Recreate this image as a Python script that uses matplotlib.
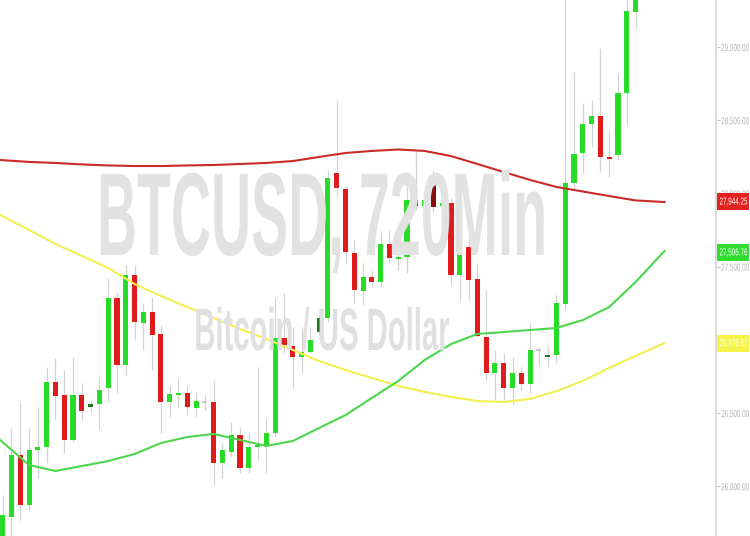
import matplotlib
matplotlib.use('Agg')
import matplotlib.pyplot as plt
import matplotlib.transforms as mtransforms
from matplotlib.patches import Rectangle
from matplotlib.patheffects import AbstractPathEffect

# candle data, 720 min bars (open, high, low, close)
opens = [25578, 25790, 26213, 25872, 26247, 26268, 26712, 26623, 26316, 26623,
         26541, 26562, 26671, 27286, 26828, 27443, 27115, 27190, 27040, 26575,
         26630, 26637, 26534, 26575, 26575, 26159, 26234, 26350, 26125, 26268,
         26282, 26364, 27012, 26958, 26883, 26917, 27053, 27149, 28139, 28030,
         27593, 27333, 27429, 27395, 27654, 27552, 27566, 27955, 27914, 28078,
         27914, 27935, 27443, 27634, 27415, 27019, 26773, 26842, 26671, 26773,
         26698, 26931, 26883, 26896, 27245, 28071, 28276, 28474, 28529, 28249,
         28262, 28686, 29239]
highs = [25940, 26398, 26569, 26398, 26541, 26814, 26876, 26794, 26883, 26705,
         26589, 26746, 27422, 27320, 27511, 27511, 27252, 27293, 27101, 26691,
         26739, 26691, 26644, 26623, 26726, 26295, 26439, 26405, 26364, 26814,
         26466, 27293, 27320, 27088, 27088, 27088, 27170, 28160, 28638, 28057,
         27682, 27525, 27477, 27750, 27750, 27730, 28057, 28296, 27989, 28160,
         27989, 27969, 27750, 27702, 27525, 27340, 26930, 26910, 26883, 26814,
         27115, 26951, 26951, 27306, 29330, 28829, 28618, 28638, 28993, 28433,
         28822, 29330, 29460]
lows = [25496, 25633, 25769, 25838, 26056, 26159, 26452, 26227, 26302, 26452,
        26507, 26384, 26575, 26637, 26760, 26999, 26931, 26794, 26364, 26473,
        26541, 26487, 26473, 26521, 26008, 26056, 26200, 26090, 26090, 26179,
        26090, 26336, 26910, 26671, 26773, 26910, 27033, 27122, 27975, 27525,
        27252, 27238, 27361, 27361, 27525, 27477, 27456, 27887, 27853, 27873,
        27853, 27374, 27272, 27272, 27019, 26726, 26589, 26589, 26555, 26657,
        26637, 26828, 26814, 26842, 27204, 28023, 28139, 28317, 28146, 28112,
        28235, 28467, 29130]
closes = [25804, 26213, 25872, 26247, 26268, 26712, 26616, 26316, 26623, 26514,
          26562, 26657, 27286, 26828, 27443, 27122, 27190, 27033, 26575, 26630,
          26637, 26541, 26582, 26575, 26159, 26247, 26350, 26125, 26268, 26282,
          26364, 27012, 26965, 26883, 26917, 26999, 27149, 28105, 28037, 27600,
          27340, 27429, 27395, 27654, 27559, 27566, 27955, 27914, 27955, 27907,
          27935, 27443, 27634, 27409, 27026, 26773, 26842, 26671, 26773, 26698,
          26931, 26931, 26896, 27252, 28071, 28269, 28474, 28529, 28249, 28235,
          28686, 29246, 29355]
dark_bars = [10, 36, 49, 62]

# moving averages, sampled along the bar axis
ma_pos = [-0.3, 3, 6, 9, 12, 15, 18, 21, 24, 27, 30, 33, 36, 39, 42, 45, 48,
          51, 54, 57, 60, 63, 66, 69, 72, 75.3]
ma_red = [28228, 28215, 28208, 28198, 28191, 28187, 28187, 28191, 28194, 28201,
          28208, 28221, 28249, 28276, 28290, 28300, 28290, 28255, 28201, 28146,
          28092, 28044, 28013, 27982, 27952, 27941]
ma_yellow = [27853, 27750, 27655, 27573, 27491, 27381, 27299, 27224, 27149, 27074,
             27006, 26931, 26855, 26794, 26739, 26685, 26644, 26610, 26582, 26575,
             26596, 26650, 26719, 26808, 26890, 26978]
ma_green = [26316, 26145, 26104, 26138, 26172, 26220, 26295, 26336, 26357, 26316,
            26275, 26309, 26398, 26486, 26603, 26719, 26862, 26971, 27040, 27053,
            27067, 27081, 27135, 27224, 27395, 27607]

last_values = [27944.25, 27596.76, 26976.87]
last_colors = ['#e3211f', '#2fdc2f', '#f5f24a']

yticks = [26000, 26500, 27000, 27500, 28000, 28500, 29000]


class Squeeze(AbstractPathEffect):
    # narrow the letters around a fixed x (display pixels)
    def __init__(self, sx, cx):
        super().__init__()
        self.sx, self.cx = sx, cx

    def draw_path(self, renderer, gc, tpath, affine, rgbFace=None):
        sq = mtransforms.Affine2D().translate(-self.cx, 0).scale(self.sx, 1).translate(self.cx, 0)
        renderer.draw_path(gc, tpath, affine + sq, rgbFace)


W, H = 750, 536
AX_W = 716
fig = plt.figure(figsize=(W / 100, H / 100), dpi=100)
ax = fig.add_axes([0, 0, AX_W / W, 1])

# watermark
fig.text(322 / W, 1 - 255 / H, 'BTCUSD, 720Min', ha='center', va='baseline',
         fontsize=85, fontweight='bold', family='Liberation Sans', color='#e2e2e2',
         zorder=0, path_effects=[Squeeze(0.47, 322)])
fig.text(322 / W, 1 - 350 / H, 'Bitcoin / US Dollar', ha='center', va='baseline',
         fontsize=43, fontweight='bold', family='Liberation Sans', color='#e0e0e0',
         zorder=0, path_effects=[Squeeze(0.49, 322)])
ax.patch.set_alpha(0)

up = '#27dc27'
down = '#e01b1b'
for i in range(len(opens)):
    o, h, l, c = opens[i], highs[i], lows[i], closes[i]
    if c > o:
        col = '#1d7d1d' if i in dark_bars else up
    elif c < o:
        col = '#8c0d0d' if i in dark_bars else down
    else:
        col = '#c8c8c8'
    ax.vlines(i, l, h, color='#d2d2d2', lw=0.9, zorder=1)
    hgt = c - o
    if abs(hgt) < 9:
        hgt = 9
        o = o - 4.5
    ax.bar(i, hgt, bottom=o, width=0.58, color=col, zorder=2, linewidth=0)

ax.plot(ma_pos, ma_red, color='#cc2929', lw=1.5, zorder=3)
ax.plot(ma_pos, ma_yellow, color='#f3ef52', lw=1.5, zorder=3)
ax.plot(ma_pos, ma_green, color='#4cd64c', lw=1.5, zorder=3)

ax.set_xlim(-0.307, 81.15)
ax.set_ylim(25660, 29321)

for s in ['top', 'left', 'bottom']:
    ax.spines[s].set_visible(False)
ax.spines['right'].set_color('#d4d4d4')
ax.spines['right'].set_linewidth(1.2)
ax.set_xticks([])
ax.yaxis.tick_right()
ax.set_yticks(yticks)
ax.set_yticklabels(['{:,.2f}'.format(v) for v in yticks])
ax.tick_params(axis='y', length=3, color='#c8c8c8', labelcolor='#b4b4b4', pad=1,
               labelsize=7.3)
for t in ax.get_yticklabels():
    t.set_family('Liberation Sans')
    t.set_path_effects([Squeeze(0.62, 720.5)])

# last value tags
trans = mtransforms.blended_transform_factory(ax.transAxes, ax.transData)
px = 29321 - 25660
px = px / H
for v, c in zip(last_values, last_colors):
    ax.add_patch(Rectangle((717 / AX_W, v - 8.5 * px), 32 / AX_W, 17 * px,
                           transform=trans, fc=c, ec='none', clip_on=False, zorder=4))
    ax.text(719.5 / AX_W, v, '{:,.2f}'.format(v), transform=trans, ha='left', va='center',
            fontsize=7.3, family='Liberation Sans', color='white', zorder=5,
            clip_on=False, path_effects=[Squeeze(0.62, 719.5)])

plt.savefig('out.png', dpi=100)
